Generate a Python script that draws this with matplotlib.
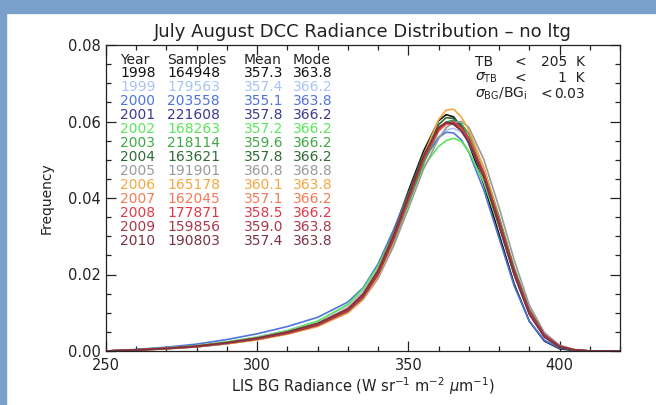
import matplotlib
matplotlib.use("Agg")
import matplotlib.pyplot as plt
from matplotlib.patches import Rectangle
from matplotlib.ticker import MultipleLocator

plt.rcParams["font.family"] = ["DejaVu Sans"]
plt.rcParams["mathtext.fontset"] = "dejavusans"

# radiance grid (W sr-1 m-2 um-1) the curves are read at
radiance = [250, 260, 270, 280, 290, 300, 310, 320, 330, 335, 340, 345, 350, 355,
            360, 362.5, 365, 367.5, 370, 375, 380, 385, 390, 395, 400, 405, 410, 420]

years = ["1998", "1999", "2000", "2001", "2002", "2003", "2004",
         "2005", "2006", "2007", "2008", "2009", "2010"]
samples = ["164948", "179563", "203558", "221608", "168263", "218114", "163621",
           "191901", "165178", "162045", "177871", "159856", "190803"]
means = ["357.3", "357.4", "355.1", "357.8", "357.2", "359.6", "357.8",
         "360.8", "360.1", "357.1", "358.5", "359.0", "357.4"]
modes = ["363.8", "366.2", "363.8", "366.2", "366.2", "366.2", "366.2",
         "368.8", "363.8", "366.2", "366.2", "363.8", "363.8"]
colors = ["#111111", "#a8c4f0", "#4f74dc", "#3c3a8c", "#5ae65a", "#3fa845", "#2f6b34",
          "#9a9a9a", "#f4a640", "#f47a55", "#e03a48", "#a8394a", "#7a3440"]

freq = {
    "1998": [0, .0003, .0007, .0012, .0020, .0032, .0048, .0070, .0108, .0145, .0212, .0308, .0418, .0522,
             .0602, .0618, .0612, .0585, .0542, .0435, .0305, .0175, .0078, .0026, .0006, .0001, 0, 0],
    "1999": [0, .0003, .0008, .0014, .0024, .0037, .0054, .0078, .0118, .0155, .0215, .0300, .0400, .0495,
             .0560, .0578, .0582, .0572, .0545, .0455, .0330, .0200, .0098, .0038, .0011, .0003, 0, 0],
    "2000": [0, .0004, .0010, .0018, .0030, .0045, .0064, .0088, .0128, .0165, .0228, .0315, .0412, .0500,
             .0558, .0572, .0570, .0552, .0520, .0420, .0295, .0170, .0078, .0028, .0008, .0002, 0, 0],
    "2001": [0, .0003, .0007, .0013, .0022, .0034, .0050, .0072, .0110, .0148, .0208, .0295, .0398, .0500,
             .0578, .0598, .0602, .0588, .0556, .0462, .0338, .0208, .0102, .0040, .0012, .0003, 0, 0],
    "2002": [0, .0003, .0008, .0014, .0024, .0036, .0053, .0078, .0122, .0162, .0222, .0305, .0398, .0482,
             .0535, .0550, .0556, .0548, .0522, .0440, .0325, .0202, .0100, .0040, .0012, .0003, 0, 0],
    "2003": [0, .0002, .0006, .0011, .0019, .0030, .0045, .0066, .0102, .0138, .0196, .0282, .0385, .0490,
             .0575, .0598, .0604, .0594, .0568, .0478, .0352, .0218, .0110, .0044, .0013, .0003, 0, 0],
    "2004": [0, .0003, .0007, .0012, .0021, .0033, .0049, .0071, .0110, .0148, .0212, .0305, .0412, .0515,
             .0592, .0610, .0608, .0590, .0555, .0458, .0330, .0200, .0098, .0038, .0011, .0003, 0, 0],
    "2005": [0, .0002, .0006, .0011, .0019, .0030, .0045, .0065, .0100, .0134, .0190, .0272, .0372, .0475,
             .0555, .0584, .0598, .0600, .0585, .0500, .0375, .0238, .0120, .0048, .0015, .0004, 0, 0],
    "2006": [0, .0002, .0006, .0011, .0019, .0029, .0044, .0064, .0100, .0136, .0195, .0285, .0395, .0510,
             .0605, .0630, .0632, .0612, .0578, .0478, .0345, .0210, .0104, .0040, .0012, .0003, 0, 0],
    "2007": [0, .0003, .0007, .0013, .0022, .0034, .0050, .0072, .0112, .0150, .0212, .0302, .0405, .0505,
             .0575, .0592, .0595, .0580, .0550, .0455, .0330, .0202, .0098, .0038, .0011, .0003, 0, 0],
    "2008": [0, .0003, .0007, .0012, .0021, .0032, .0047, .0068, .0106, .0142, .0202, .0290, .0395, .0500,
             .0578, .0596, .0598, .0584, .0556, .0465, .0340, .0210, .0104, .0041, .0012, .0003, 0, 0],
    "2009": [0, .0002, .0006, .0011, .0020, .0031, .0046, .0067, .0104, .0140, .0200, .0290, .0398, .0505,
             .0582, .0596, .0592, .0576, .0548, .0462, .0342, .0212, .0106, .0042, .0013, .0003, 0, 0],
    "2010": [0, .0003, .0007, .0013, .0022, .0034, .0050, .0072, .0110, .0148, .0210, .0300, .0405, .0510,
             .0585, .0598, .0594, .0576, .0545, .0452, .0328, .0200, .0096, .0036, .0010, .0002, 0, 0],
}

W, H = 656, 405
fig = plt.figure(figsize=(W / 100, H / 100), dpi=100)

# light blue frame of the slide at the top and left edges
fig.patches.append(Rectangle((0, 1 - 13 / H), 1, 13 / H, transform=fig.transFigure,
                             color="#7ba0cc", zorder=0))
fig.patches.append(Rectangle((0, 0), 6 / W, 1, transform=fig.transFigure,
                             color="#7ba0cc", zorder=0))

ax = fig.add_axes([106 / W, 54 / H, 514 / W, 306 / H])
for year, color in zip(years, colors):
    ax.plot(radiance, freq[year], color=color, lw=1.2)

ax.set_xlim(250, 420)
ax.set_ylim(0, 0.08)
ax.xaxis.set_major_locator(MultipleLocator(50))
ax.xaxis.set_minor_locator(MultipleLocator(10))
ax.yaxis.set_major_locator(MultipleLocator(0.02))
ax.yaxis.set_minor_locator(MultipleLocator(0.005))
ax.yaxis.set_major_formatter(plt.FormatStrFormatter("%.2f"))
ax.tick_params(which="both", direction="in", top=True, right=True, width=0.9, colors="#222222",
               labelsize=10.5, labelcolor="#222222")
ax.tick_params(which="major", length=7)
ax.tick_params(which="minor", length=3.5)
ax.tick_params(axis="x", pad=5)
ax.tick_params(axis="y", pad=4)
for spine in ax.spines.values():
    spine.set_linewidth(0.9)
    spine.set_color("#222222")

ax.set_title("July August DCC Radiance Distribution \u2013 no ltg", fontsize=13, color="#222222", pad=6)
ax.set_xlabel(r"LIS BG Radiance (W sr$^{-1}$ m$^{-2}$ $\mu$m$^{-1}$)", fontsize=10.5,
              color="#222222", labelpad=2)
ax.set_ylabel("Frequency", fontsize=10, color="#222222", labelpad=10)


def put(x, y, s, color="#222222", ha="left", size=10):
    fig.text(x / W, 1 - y / H, s, color=color, ha=ha, va="center", fontsize=size)


for x, head in zip([120, 167, 244, 293], ["Year", "Samples", "Mean", "Mode"]):
    put(x, 60, head)
for i, (year, color) in enumerate(zip(years, colors)):
    y = 73 + 14 * i
    put(120, y, year, color)
    put(167, y, samples[i], color)
    put(244, y, means[i], color)
    put(293, y, modes[i], color)

put(475, 62, "TB")
put(514, 62, "<")
put(585, 62, "205  K", ha="right")
put(475, 78, r"$\sigma_{\mathrm{TB}}$")
put(514, 78, "<")
put(585, 78, "1  K", ha="right")
put(475, 94, r"$\sigma_{\mathrm{BG}}$/BG$_{\mathrm{i}}$")
put(540, 94, "<")
put(585, 94, "0.03", ha="right")

fig.savefig("out.png", dpi=100)
